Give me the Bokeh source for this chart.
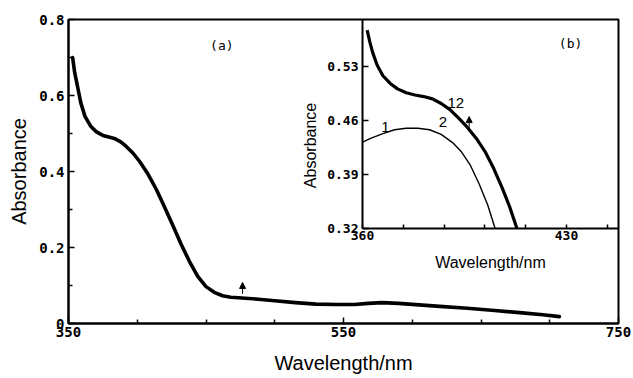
from bokeh.plotting import figure
from bokeh.models import (Range1d, LinearAxis, FixedTicker, Label, Arrow, NormalHead)
from bokeh.embed import file_html
from bokeh.resources import INLINE
import math

# ---------- data ----------
# main panel (a): final spectrum
wl_a = [353, 354.5, 356.5, 359, 362, 366, 370, 375, 380, 384, 388, 392, 397, 402,
        408, 414, 420, 426, 432, 438, 444, 450, 456, 462, 468, 476, 488, 500, 515,
        530, 545, 558, 568, 578, 590, 605, 620, 640, 660, 680, 695, 707]
abs_a = [0.700, 0.660, 0.625, 0.580, 0.545, 0.520, 0.505, 0.495, 0.490, 0.486,
         0.478, 0.466, 0.448, 0.425, 0.392, 0.352, 0.305, 0.257, 0.208, 0.163,
         0.124, 0.097, 0.082, 0.073, 0.069, 0.067, 0.064, 0.060, 0.055, 0.051,
         0.050, 0.050, 0.053, 0.055, 0.053, 0.049, 0.045, 0.040, 0.034, 0.028,
         0.023, 0.018]

# inset (b): spectrum 12 (thick) and spectrum 1 (thin)
wl_b12 = [361.6, 362.5, 363.5, 365, 367, 369.5, 372, 375, 378, 381, 384, 387, 390,
          393, 396, 399, 402, 405, 408, 410.5, 413]
abs_b12 = [0.577, 0.562, 0.548, 0.532, 0.518, 0.508, 0.501, 0.496, 0.493, 0.491,
           0.488, 0.482, 0.474, 0.463, 0.451, 0.437, 0.420, 0.398, 0.372, 0.348, 0.320]
wl_b1 = [360, 363, 367, 371, 375, 379, 383, 387, 391, 394, 397, 400, 403, 405.5]
abs_b1 = [0.432, 0.437, 0.443, 0.448, 0.450, 0.450, 0.448, 0.442, 0.431, 0.419,
          0.402, 0.378, 0.350, 0.320]

# ticks
main_x_ticks = [350, 550, 750]
main_x_minor = [400, 450, 500, 600, 650, 700]
main_y_ticks = [0, 0.2, 0.4, 0.6, 0.8]
main_y_labels = ["0", "0.2", "0.4", "0.6", "0.8"]
main_y_minor = [0.1, 0.3, 0.5, 0.7]
inset_x_ticks = [360, 430]
inset_x_minor = [374, 388, 402, 416, 444]
inset_y_ticks = [0.32, 0.39, 0.46, 0.53]
inset_y_labels = ["0.32", "0.39", "0.46", "0.53"]

# curve labels in the inset
inset_lbl_x = [367.9, 387.6, 392.0]
inset_lbl_y = [0.452, 0.4575, 0.483]
inset_lbl_t = ["1", "2", "12"]

TICK_FONT = "DejaVu Sans Mono"
LABEL_FONT = "Liberation Sans"

p = figure(width=633, height=378, x_range=Range1d(350, 750), y_range=Range1d(0, 0.8),
           x_axis_type=None, y_axis_type=None, output_backend="svg",
           toolbar_location=None, min_border_left=68, min_border_right=15,
           min_border_top=19, min_border_bottom=55)
p.grid.visible = False
p.outline_line_color = "black"
p.outline_line_width = 2
p.background_fill_color = "white"
p.border_fill_color = "white"

p.extra_x_ranges = {"ix": Range1d(259.1, 447.85)}
p.extra_y_ranges = {"iy": Range1d(0.1968, 0.5909)}

def style_axis(ax, size, bold=True):
    ax.axis_line_width = 2
    ax.axis_line_color = "black"
    ax.major_tick_in = 6
    ax.major_tick_out = 0
    ax.minor_tick_in = 4
    ax.minor_tick_out = 0
    ax.major_tick_line_width = 1.5
    ax.minor_tick_line_width = 1.5
    ax.major_label_text_font = TICK_FONT
    ax.major_label_text_font_size = size
    ax.major_label_text_font_style = "bold" if bold else "normal"
    ax.major_label_text_color = "black"
    ax.axis_label_text_font = LABEL_FONT
    ax.axis_label_text_font_style = "normal"
    ax.axis_label_text_color = "black"

# main axes
xa = LinearAxis(ticker=FixedTicker(ticks=main_x_ticks, minor_ticks=main_x_minor),
                axis_label="Wavelength/nm")
style_axis(xa, "14px")
xa.major_label_standoff = 3
xa.axis_label_standoff = 12
xa.axis_label_text_font_size = "20px"
p.add_layout(xa, "below")

ya = LinearAxis(ticker=FixedTicker(ticks=main_y_ticks, minor_ticks=main_y_minor),
                axis_label="Absorbance")
ya.major_label_overrides = {t: l for t, l in zip(main_y_ticks, main_y_labels)}
style_axis(ya, "14px")
ya.major_label_standoff = 4
ya.axis_label_standoff = 6
ya.axis_label_text_font_size = "20px"
p.add_layout(ya, "left")

# inset axes placed inside the frame
ixa = LinearAxis(x_range_name="ix", y_range_name="iy", fixed_location=0.32,
                 bounds=(360, 447.85),
                 ticker=FixedTicker(ticks=inset_x_ticks, minor_ticks=inset_x_minor))
style_axis(ixa, "13px")
ixa.major_tick_in = 4
ixa.major_label_standoff = 3
p.add_layout(ixa, "below")

iya = LinearAxis(x_range_name="ix", y_range_name="iy", fixed_location=360,
                 bounds=(0.32, 0.5909),
                 ticker=FixedTicker(ticks=inset_y_ticks, minor_ticks=[]))
iya.major_label_overrides = {t: l for t, l in zip(inset_y_ticks, inset_y_labels)}
style_axis(iya, "13px")
iya.major_label_standoff = 4
p.add_layout(iya, "left")

# curves
p.line(wl_a, abs_a, line_color="black", line_width=3.6, line_join="round",
       line_cap="round")
p.line(wl_b12, abs_b12, line_color="black", line_width=3.2, line_join="round",
       x_range_name="ix", y_range_name="iy")
p.line(wl_b1, abs_b1, line_color="black", line_width=1.4, line_join="round",
       x_range_name="ix", y_range_name="iy")

# arrows
p.add_layout(Arrow(end=NormalHead(size=6, fill_color="black", line_color="black"),
                   x_start=476.6, y_start=0.078, x_end=476.6, y_end=0.108,
                   line_width=1, line_color="black"))
p.add_layout(Arrow(end=NormalHead(size=6, fill_color="black", line_color="black"),
                   x_start=396.6, y_start=0.449, x_end=396.6, y_end=0.465,
                   line_width=1, line_color="black",
                   x_range_name="ix", y_range_name="iy"))

# curve labels
for x, y, t in zip(inset_lbl_x, inset_lbl_y, inset_lbl_t):
    p.add_layout(Label(x=x, y=y, text=t, x_range_name="ix", y_range_name="iy",
                       text_align="center", text_baseline="middle",
                       text_font=LABEL_FONT, text_font_size="15px", text_color="black"))

# panel tags
p.add_layout(Label(x=461.5, y=0.7316, text="(a)", text_align="center",
                   text_baseline="middle", text_font=TICK_FONT,
                   text_font_size="13px", text_color="black"))
p.add_layout(Label(x=431.4, y=0.5598, text="(b)", x_range_name="ix", y_range_name="iy",
                   text_align="center", text_baseline="middle", text_font=TICK_FONT,
                   text_font_size="13px", text_color="black"))

# inset axis titles
p.add_layout(Label(x=342.2, y=0.4276, text="Absorbance", x_range_name="ix",
                   y_range_name="iy", angle=math.pi / 2, text_align="center",
                   text_baseline="middle", text_font=LABEL_FONT,
                   text_font_size="16px", text_color="black"))
p.add_layout(Label(x=403.9, y=0.2759, text="Wavelength/nm", x_range_name="ix",
                   y_range_name="iy", text_align="center", text_baseline="middle",
                   text_font=LABEL_FONT, text_font_size="16px", text_color="black"))

open("out.html", "w").write(file_html(p, INLINE))
